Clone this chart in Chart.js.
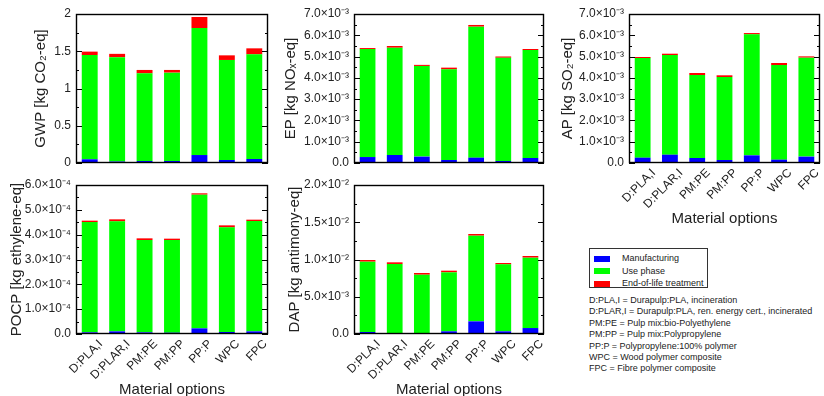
<!DOCTYPE html>
<html>
<head>
<meta charset="utf-8">
<title>Impact categories by material option</title>
<script src="https://cdn.jsdelivr.net/npm/chart.js"></script>
<style>
  body { margin: 0; width: 824px; height: 396px; overflow: hidden; background: #fff;
         font-family: 'Liberation Sans', Arial, sans-serif; color: #222; position: relative; }
  canvas { position: absolute; }
  #legend { position: absolute; left: 589px; top: 248px; width: 119px; height: 40px;
            border: 1px solid #333; box-sizing: border-box; font-size: 9px; }
  #legend .row { position: absolute; left: 4px; height: 12px; line-height: 12px; white-space: nowrap; }
  #legend .sw { display: inline-block; width: 16px; height: 6px; vertical-align: middle; margin-right: 12px; }
  #notes { position: absolute; left: 589px; top: 295px; font-size: 9px; line-height: 11.4px; white-space: nowrap; }
</style>
</head>
<body>
<div id="legend"></div>
<div id="notes"></div>
<script>
const categories = ['D:PLA,I', 'D:PLAR,I', 'PM:PE', 'PM:PP', 'PP:P', 'WPC', 'FPC'];
const seriesNames = ['Manufacturing', 'Use phase', 'End-of-life treatment'];
const seriesColors = ['#0000ff', '#00ff00', '#ff0000'];

// GWP [kg CO2-eq]
const gwpManufacturing = [0.05, 0.02, 0.027, 0.027, 0.107, 0.04, 0.054];
const gwpUsePhase      = [1.40, 1.40, 1.177, 1.186, 1.705, 1.343, 1.405];
const gwpEndOfLife     = [0.045, 0.045, 0.045, 0.036, 0.148, 0.062, 0.08];
// EP [kg NOx-eq]
const epManufacturing = [0.28e-3, 0.376e-3, 0.30e-3, 0.14e-3, 0.25e-3, 0.094e-3, 0.235e-3];
const epUsePhase      = [5.07e-3, 5.04e-3, 4.26e-3, 4.26e-3, 6.155e-3, 4.85e-3, 5.07e-3];
const epEndOfLife     = [0.05e-3, 0.08e-3, 0.05e-3, 0.08e-3, 0.08e-3, 0.06e-3, 0.05e-3];
// AP [kg SO2-eq]
const apManufacturing = [0.25e-3, 0.39e-3, 0.235e-3, 0.14e-3, 0.36e-3, 0.157e-3, 0.30e-3];
const apUsePhase      = [4.68e-3, 4.68e-3, 3.90e-3, 3.90e-3, 5.685e-3, 4.447e-3, 4.65e-3];
const apEndOfLife     = [0.05e-3, 0.065e-3, 0.094e-3, 0.08e-3, 0.06e-3, 0.094e-3, 0.06e-3];
// POCP [kg ethylene-eq]
const pocpManufacturing = [0.067e-4, 0.107e-4, 0.067e-4, 0.054e-4, 0.228e-4, 0.08e-4, 0.107e-4];
const pocpUsePhase      = [4.443e-4, 4.43e-4, 3.718e-4, 3.731e-4, 5.383e-4, 4.215e-4, 4.443e-4];
const pocpEndOfLife     = [0.054e-4, 0.08e-4, 0.067e-4, 0.054e-4, 0.054e-4, 0.08e-4, 0.054e-4];
// DAP [kg antimony-eq]
const dapManufacturing = [0.27e-3, 0.05e-3, 0.13e-3, 0.36e-3, 1.70e-3, 0.36e-3, 0.8e-3];
const dapUsePhase      = [9.44e-3, 9.35e-3, 7.83e-3, 7.92e-3, 11.5e-3, 8.99e-3, 9.45e-3];
const dapEndOfLife     = [0.22e-3, 0.22e-3, 0.23e-3, 0.22e-3, 0.22e-3, 0.18e-3, 0.22e-3];

// tick labels
const gwpTicks = ['0', '0.5', '1', '1.5', '2'];
const e3Ticks = ['0.0', '1.0×10⁻³', '2.0×10⁻³', '3.0×10⁻³', '4.0×10⁻³', '5.0×10⁻³', '6.0×10⁻³', '7.0×10⁻³'];
const pocpTicks = ['0.0', '1.0×10⁻⁴', '2.0×10⁻⁴', '3.0×10⁻⁴', '4.0×10⁻⁴', '5.0×10⁻⁴', '6.0×10⁻⁴'];
const dapTicks = ['0.0', '5.0×10⁻³', '1.0×10⁻²', '1.5×10⁻²', '2.0×10⁻²'];

const notes = [
  'D:PLA,I = Durapulp:PLA, incineration',
  'D:PLAR,I = Durapulp:PLA, ren. energy cert., incinerated',
  'PM:PE = Pulp mix:bio-Polyethylene',
  'PM:PP = Pulp mix:Polypropylene',
  'PP:P = Polypropylene:100% polymer',
  'WPC = Wood polymer composite',
  'FPC = Fibre polymer composite'
];

Chart.defaults.font.family = "'Liberation Sans', Arial, sans-serif";
Chart.defaults.color = '#222';

// black box round the plot plus gnuplot style inner ticks
const frame = {
  id: 'frame',
  afterDatasetsDraw(chart) {
    const ctx = chart.ctx, a = chart.chartArea, y = chart.scales.y;
    ctx.save();
    ctx.strokeStyle = '#000';
    ctx.lineWidth = 1.4;
    ctx.strokeRect(a.left + 0.5, a.top + 0.5, a.right - a.left - 1, a.bottom - a.top - 1);
    ctx.lineWidth = 1;
    const vals = y.ticks.map(t => t.value);
    ctx.beginPath();
    vals.forEach((v, i) => {
      const py = Math.round(y.getPixelForValue(v)) + 0.5;
      ctx.moveTo(a.left, py); ctx.lineTo(a.left + 6, py);
      ctx.moveTo(a.right, py); ctx.lineTo(a.right - 6, py);
      if (i < vals.length - 1) {
        const my = Math.round(y.getPixelForValue((v + vals[i + 1]) / 2)) + 0.5;
        ctx.moveTo(a.left, my); ctx.lineTo(a.left + 3, my);
        ctx.moveTo(a.right, my); ctx.lineTo(a.right - 3, my);
      }
    });
    ctx.stroke();
    ctx.restore();
  }
};

const panels = [
  { left: 0, top: 0, w: 275, h: 170, area: [76, 14, 268, 163], max: 2, step: 0.5, ticks: gwpTicks,
    title: 'GWP [kg CO₂-eq]', titlePad: 32, xLabels: false,
    data: [gwpManufacturing, gwpUsePhase, gwpEndOfLife] },
  { left: 275, top: 0, w: 275, h: 170, area: [79, 14, 269, 163], max: 7e-3, step: 1e-3, ticks: e3Ticks,
    title: 'EP [kg NOₓ-eq]', titlePad: 7, xLabels: false,
    data: [epManufacturing, epUsePhase, epEndOfLife] },
  { left: 550, top: 0, w: 274, h: 230, area: [79, 14, 270, 163], max: 7e-3, step: 1e-3, ticks: e3Ticks,
    title: 'AP [kg SO₂-eq]', titlePad: 9, xLabels: true, xPad: 2,
    data: [apManufacturing, apUsePhase, apEndOfLife] },
  { left: 0, top: 170, w: 275, h: 232, area: [76, 15, 268, 164], max: 6e-4, step: 1e-4, ticks: pocpTicks,
    title: 'POCP [kg ethylene-eq]', titlePad: 8, xLabels: true, xPad: 3.5,
    data: [pocpManufacturing, pocpUsePhase, pocpEndOfLife] },
  { left: 275, top: 170, w: 275, h: 232, area: [79, 15, 269, 164], max: 2e-2, step: 0.5e-2, ticks: dapTicks,
    title: 'DAP [kg antimony-eq]', titlePad: 11, xLabels: true, xPad: 3.5,
    data: [dapManufacturing, dapUsePhase, dapEndOfLife] }
];

panels.forEach(p => {
  const cv = document.createElement('canvas');
  cv.width = p.w; cv.height = p.h;
  cv.style.left = p.left + 'px'; cv.style.top = p.top + 'px';
  document.body.appendChild(cv);
  const [aL, aT, aR, aB] = p.area;
  new Chart(cv, {
    type: 'bar',
    data: {
      labels: categories,
      datasets: p.data.map((d, i) => ({
        label: seriesNames[i],
        data: d,
        backgroundColor: seriesColors[i],
        borderWidth: 0,
        barPercentage: 0.58,
        categoryPercentage: 1
      }))
    },
    options: {
      responsive: false,
      animation: false,
      layout: { autoPadding: false, padding: { left: 0, top: aT, right: p.w - aR, bottom: 0 } },
      plugins: { legend: { display: false }, tooltip: { enabled: false } },
      scales: {
        x: {
          stacked: true,
          grid: { display: false, drawTicks: false },
          border: { display: false },
          ticks: { display: p.xLabels, minRotation: 45, maxRotation: 45, padding: 3, labelOffset: 11,
                   font: { size: 12 }, color: '#222' },
          title: { display: p.xLabels, text: 'Material options', font: { size: 15 }, color: '#222',
                   padding: { top: 0, bottom: p.xPad || 0 } },
          afterFit: s => { s.height = p.h - aB; s.paddingLeft = 0; s.paddingRight = 0; }
        },
        y: {
          stacked: true,
          min: 0, max: p.max,
          grid: { display: false, drawTicks: false },
          border: { display: false },
          ticks: { stepSize: p.step, padding: 5, font: { size: 12 }, color: '#222',
                   callback: (v, i) => p.ticks[i] },
          title: { display: true, text: p.title, font: { size: 15 }, color: '#222',
                   padding: { top: p.titlePad, bottom: 0 } },
          afterFit: s => { s.width = aL; s.paddingTop = 0; s.paddingBottom = 0; }
        }
      }
    },
    plugins: [frame]
  });
});

// legend and abbreviation notes
const lg = document.getElementById('legend');
seriesNames.forEach((n, i) => {
  const r = document.createElement('div');
  r.className = 'row';
  r.style.top = (3 + i * 12.5) + 'px';
  r.innerHTML = '<span class="sw" style="background:' + seriesColors[i] + '"></span>' + n;
  lg.appendChild(r);
});
document.getElementById('notes').innerHTML = notes.join('<br>');
</script>
</body>
</html>
